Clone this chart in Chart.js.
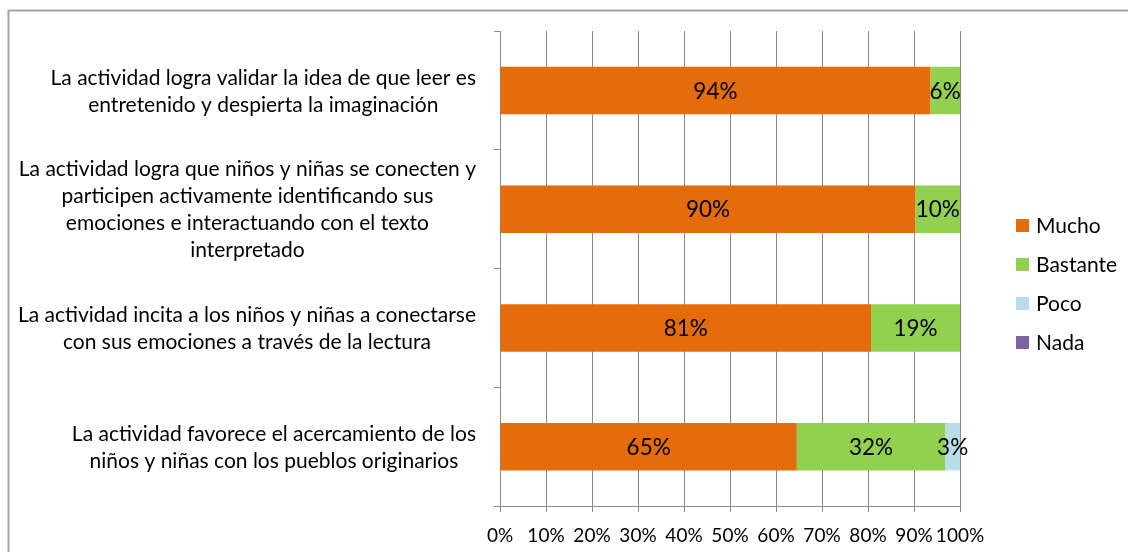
<!DOCTYPE html>
<html>
<head>
<meta charset="utf-8">
<script src="https://cdn.jsdelivr.net/npm/chart.js@4"></script>
<style>
  html, body { margin: 0; padding: 0; background: #fff; overflow: hidden; }
  #wrap { width: 1128px; height: 552px; position: relative; }
</style>
</head>
<body>
<div id="wrap"><canvas id="c" width="1128" height="552"></canvas></div>
<script>
// ---- Data ----
const categories = [
  ["La actividad logra validar la idea de que leer es", "entretenido y despierta la imaginación"],
  ["La actividad logra que niños y niñas se conecten y", "participen activamente identificando sus", "emociones e interactuando con el texto", "interpretado"],
  ["La actividad incita a los niños y niñas a conectarse", "con sus emociones a través de la lectura"],
  ["La actividad favorece el acercamiento de los", "niños y niñas con los pueblos originarios"]
];
const seriesNames = ["Mucho", "Bastante", "Poco", "Nada"];
const mucho    = [93.55, 90.32, 80.65, 64.52];
const bastante = [6.45, 9.68, 19.35, 32.26];
const poco     = [0, 0, 0, 3.23];
const nada     = [0, 0, 0, 0];
const xTicks   = [0, 10, 20, 30, 40, 50, 60, 70, 80, 90, 100];

const colors = ["#E46C0A", "#92D050", "#B7DEE8", "#8064A2"];
const FONT = "Lato, 'Open Sans', sans-serif";
const GRID = "#8a8a8a";

const frame = {
  id: 'frame',
  beforeDraw(chart) {
    const ctx = chart.ctx;
    ctx.save();
    ctx.fillStyle = '#fff';
    ctx.fillRect(0, 0, chart.width, chart.height);
    ctx.strokeStyle = '#a6a6a6';
    ctx.lineWidth = 2;
    ctx.strokeRect(8.5, 10.5, 1400, 800);
    ctx.restore();
  }
};

const catLabels = {
  id: 'catLabels',
  afterDraw(chart) {
    const ctx = chart.ctx;
    const yScale = chart.scales.y;
    ctx.save();
    ctx.font = "21px " + FONT;
    ctx.fillStyle = '#000';
    ctx.textAlign = 'center';
    ctx.textBaseline = 'middle';
    const lh = 27;
    const right = yScale.left - 18;
    categories.forEach((lines, i) => {
      const yc = yScale.getPixelForValue(i) + 1;
      let maxW = 0;
      lines.forEach(l => { maxW = Math.max(maxW, ctx.measureText(l).width); });
      const xc = right - maxW / 2;
      const y0 = yc - (lines.length - 1) * lh / 2;
      lines.forEach((l, k) => ctx.fillText(l, xc, y0 + k * lh));
    });
    ctx.restore();
  }
};

const valueLabels = {
  id: 'valueLabels',
  afterDatasetsDraw(chart) {
    const ctx = chart.ctx;
    ctx.save();
    ctx.font = "22.5px " + FONT;
    ctx.fillStyle = '#000';
    ctx.textAlign = 'center';
    ctx.textBaseline = 'middle';
    chart.data.datasets.forEach((ds, di) => {
      const meta = chart.getDatasetMeta(di);
      meta.data.forEach((el, i) => {
        const v = ds.data[i];
        if (!v) return;
        const p = el.getProps(['x', 'y', 'base'], true);
        ctx.fillText(Math.round(v) + '%', (p.x + p.base) / 2, p.y + 1);
      });
    });
    ctx.restore();
  }
};

const legendBox = {
  id: 'legendBox',
  afterDraw(chart) {
    const ctx = chart.ctx;
    const ca = chart.chartArea;
    ctx.save();
    ctx.font = "21px " + FONT;
    ctx.textAlign = 'left';
    ctx.textBaseline = 'middle';
    const x0 = ca.right + 56;
    const yStart = 225, step = 39;
    chart.data.datasets.forEach((ds, i) => {
      const y = yStart + i * step;
      ctx.fillStyle = ds.backgroundColor;
      ctx.fillRect(x0, y - 6, 13, 13);
      ctx.fillStyle = '#000';
      ctx.fillText(ds.label, x0 + 20, y + 1);
    });
    ctx.restore();
  }
};

new Chart(document.getElementById('c'), {
  type: 'bar',
  data: {
    labels: categories.map(c => c.join(' ')),
    datasets: [
      { label: seriesNames[0], data: mucho,    backgroundColor: colors[0] },
      { label: seriesNames[1], data: bastante, backgroundColor: colors[1] },
      { label: seriesNames[2], data: poco,     backgroundColor: colors[2] },
      { label: seriesNames[3], data: nada,     backgroundColor: colors[3] }
    ]
  },
  options: {
    indexAxis: 'y',
    responsive: false,
    animation: false,
    devicePixelRatio: 1,
    layout: { padding: { left: 494, top: 31, right: 168, bottom: 0 } },
    datasets: { bar: { categoryPercentage: 1, barPercentage: 0.4, borderWidth: 0 } },
    plugins: { legend: { display: false }, tooltip: { enabled: false } },
    scales: {
      x: {
        stacked: true,
        min: 0, max: 100,
        afterBuildTicks(s) { s.ticks = xTicks.map(v => ({ value: v })); },
        afterFit(s) { s.height = 46; },
        ticks: { callback: v => v + '%', color: '#000', font: { family: FONT, size: 19 }, padding: 12, maxRotation: 0, autoSkip: false },
        grid: { color: GRID, lineWidth: 1, tickLength: 6, drawTicks: true },
        border: { display: true, color: GRID, width: 1 }
      },
      y: {
        stacked: true,
        offset: true,
        ticks: { display: false },
        grid: { offset: true, drawOnChartArea: false, drawTicks: true, tickLength: 6, color: GRID, lineWidth: 1 },
        border: { display: true, color: GRID, width: 1 }
      }
    }
  },
  plugins: [frame, catLabels, valueLabels, legendBox]
});
</script>
</body>
</html>
